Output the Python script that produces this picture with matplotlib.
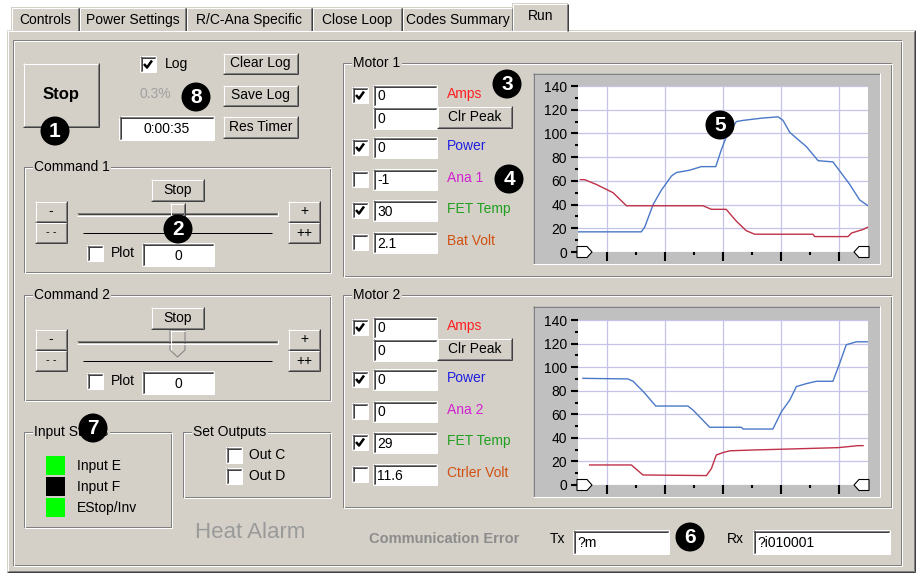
import matplotlib
matplotlib.use('Agg')
import matplotlib.pyplot as plt
from matplotlib.patches import Rectangle, Polygon, Circle
from matplotlib.ticker import MultipleLocator, FixedLocator

W, H = 918, 573
BG = '#d4d0c8'
DARK = '#808080'
DARKER = '#404040'
FONT = ['Liberation Sans', 'DejaVu Sans']
plt.rcParams['font.family'] = FONT

# ---- data ----
tab_names = ['Controls', 'Power Settings', 'R/C-Ana Specific', 'Close Loop', 'Codes Summary', 'Run']

m1_labels = ['Amps', 'Power', 'Ana 1', 'FET Temp', 'Bat Volt']
m1_values = ['0', '0', '-1', '30', '2.1']
m1_checked = [True, True, False, True, False]
m2_labels = ['Amps', 'Power', 'Ana 2', 'FET Temp', 'Ctrler Volt']
m2_values = ['0', '0', '0', '29', '11.6']
m2_checked = [True, True, False, True, False]
chan_colors = ['#ff2020', '#2020e0', '#d020d0', '#20a020', '#d05010']

inputs = ['Input E', 'Input F', 'EStop/Inv']
input_colors = ['#00ff00', '#000000', '#00ff00']
outputs = ['Out C', 'Out D']

# motor 1 chart traces (time %, value)
m1_blue_t = [0, 21.8, 23, 25.9, 28.7, 32.2, 33.9, 38.5, 42.5, 47.5, 49.4, 51.1, 54.6, 56.9,
             63.8, 69, 70.7, 73, 75.3, 78.7, 82.8, 87.9, 93.7, 97.1, 100]
m1_blue_v = [17, 17, 21, 40, 52, 64, 67, 69, 72, 72, 86, 97, 110, 111,
             113, 114, 111, 101, 96, 89, 77, 76, 57, 44, 39]
m1_red_t = [0.8, 2.3, 6.3, 12.1, 16.7, 43.1, 46, 51.1, 54.6, 58, 60.9, 81, 81.6, 93.1, 94.3, 98.3, 100]
m1_red_v = [61, 61, 57, 50, 39, 39, 36, 36, 26, 18, 15, 15, 13, 13, 16, 19, 21]

# motor 2 chart traces
m2_blue_t = [1.7, 17.2, 19, 23, 26.8, 37.9, 39.7, 45.4, 56.3, 56.9, 67.2, 70.1, 73, 75.3,
             78.7, 82.2, 87.9, 90.2, 92.5, 96, 100]
m2_blue_v = [90.5, 90, 88, 78, 67, 67, 63.5, 49, 49, 47.5, 47.5, 62, 72, 83.5,
             86, 88, 88, 103, 119, 121.5, 121.5]
m2_red_t = [4, 18.4, 22.4, 44.3, 46, 47.7, 50, 52.3, 60.3, 72.4, 89.7, 96.6, 98.3]
m2_red_v = [17, 17, 8.5, 8, 14, 25.5, 27.5, 29, 29.7, 30.5, 31.7, 33.4, 33.4]

markers = ['1', '2', '3', '4', '5', '6', '7', '8']


fig = plt.figure(figsize=(W / 100, H / 100), dpi=100)
fig.patch.set_facecolor('white')
ax = fig.add_axes([0, 0, 1, 1])
ax.set_xlim(0, W)
ax.set_ylim(H, 0)
ax.axis('off')


def hl(x0, x1, y, c, lw=1):
    ax.plot([x0, x1], [y, y], color=c, lw=lw * 0.72, solid_capstyle='butt')


def vl(x, y0, y1, c, lw=1):
    ax.plot([x, x], [y0, y1], color=c, lw=lw * 0.72, solid_capstyle='butt')


def txt(x, y, s, size=10, color='black', ha='left', weight='normal'):
    ax.text(x, y, s, fontsize=size, color=color, ha=ha, va='center', weight=weight)


def button(x0, y0, x1, y1, label='', size=10, weight='normal'):
    ax.add_patch(Rectangle((x0, y0), x1 - x0, y1 - y0, fc=BG, ec='none'))
    hl(x0, x1, y0 + 0.5, 'white')
    vl(x0 + 0.5, y0, y1, 'white')
    hl(x0, x1, y1 - 0.5, DARKER)
    vl(x1 - 0.5, y0, y1, DARKER)
    hl(x0 + 1, x1 - 1, y1 - 1.5, DARK)
    vl(x1 - 1.5, y0 + 1, y1 - 1, DARK)
    if label:
        txt((x0 + x1) / 2, (y0 + y1) / 2, label, size=size, ha='center', weight=weight)


def sunken(x0, y0, x1, y1, label='', ha='left', fc='white'):
    ax.add_patch(Rectangle((x0, y0), x1 - x0, y1 - y0, fc=fc, ec='none'))
    hl(x0, x1, y0 + 0.5, DARK)
    vl(x0 + 0.5, y0, y1, DARK)
    hl(x0 + 1, x1 - 1, y0 + 1.5, DARKER)
    vl(x0 + 1.5, y0 + 1, y1 - 1, DARKER)
    hl(x0, x1, y1 - 0.5, 'white')
    vl(x1 - 0.5, y0, y1, 'white')
    if label:
        if ha == 'center':
            txt((x0 + x1) / 2, (y0 + y1) / 2 + 1, label, ha='center')
        else:
            txt(x0 + 4, (y0 + y1) / 2 + 1, label)


def checkbox(x0, y0, checked, s=16):
    sunken(x0, y0, x0 + s, y0 + s)
    if checked:
        ax.plot([x0 + 4, x0 + 7, x0 + 12], [y0 + 8, y0 + 11.5, y0 + 4.5],
                color='black', lw=1.8, solid_capstyle='butt')


def group(x0, y0, x1, y1, label):
    ax.add_patch(Rectangle((x0, y0), x1 - x0 - 1, y1 - y0 - 1, fc='none', ec=DARK, lw=0.72))
    ax.add_patch(Rectangle((x0 + 1, y0 + 1), x1 - x0 - 1, y1 - y0 - 1, fc='none', ec='white', lw=0.72))
    ax.text(x0 + 10, y0, label, fontsize=10, va='center', ha='left',
            bbox=dict(fc=BG, ec='none', pad=1))


# ---- tab strip ----
tab_x = [11, 79, 186, 312, 402, 513, 568]
for i, name in enumerate(tab_names[:-1]):
    x0, x1 = tab_x[i], tab_x[i + 1]
    ax.add_patch(Rectangle((x0, 7), x1 - x0, 24, fc=BG, ec='none'))
    hl(x0 + 1, x1 - 1, 7.5, 'white')
    vl(x0 + 0.5, 8, 31, 'white')
    vl(x1 - 0.5, 8, 31, DARKER)
    vl(x1 - 1.5, 8, 31, DARK)
    txt((x0 + x1) / 2, 20, name, ha='center')

# panel body
ax.add_patch(Rectangle((7, 30), 908, 542, fc=BG, ec='none'))
hl(7, 915, 30.5, 'white')
vl(7.5, 30, 572, 'white')
vl(914.5, 30, 572, DARKER)
vl(913.5, 31, 571, DARK)
hl(7, 915, 571.5, DARKER)
hl(8, 914, 570.5, DARK)

# selected tab
x0, x1 = tab_x[-2], tab_x[-1]
ax.add_patch(Rectangle((x0 - 1, 3), x1 - x0 + 1, 29, fc=BG, ec='none'))
hl(x0, x1 - 1, 3.5, 'white')
vl(x0 - 0.5, 4, 31, 'white')
vl(x1 - 0.5, 4, 31, DARKER)
vl(x1 - 1.5, 4, 31, DARK)
txt((x0 + x1) / 2, 16, tab_names[-1], ha='center')

# inner frame
ax.add_patch(Rectangle((13, 40), 888, 525, fc='none', ec=DARK, lw=0.72))
ax.add_patch(Rectangle((14, 41), 888, 525, fc='none', ec='white', lw=0.72))

# ---- top-left controls ----
button(23, 63, 99, 127, 'Stop', size=12, weight='bold')
checkbox(140, 56, True)
txt(165, 64, 'Log')
button(223, 53, 298, 74, 'Clear Log')
button(223, 85, 298, 106, 'Save Log')
button(223, 116, 298, 138, 'Res Timer')
txt(139, 94, '0.3%', color='#a0a0a0')
sunken(119, 116, 214, 140, '0:00:35', ha='center')


# ---- command groups ----
def command(top, thumb_pointed):
    group(24, top, 331, top + 106, 'Command ' + ('1' if top < 200 else '2'))
    button(151, top + 12, 204, top + 34, 'Stop')
    button(35, top + 34, 67, top + 55, '-')
    button(35, top + 55, 67, top + 76)
    txt(51, top + 65, '- -', size=8, ha='center')
    button(288, top + 34, 320, top + 55, '+')
    button(288, top + 55, 320, top + 76, '++')
    gy = top + 45
    ax.add_patch(Rectangle((77, gy), 201, 4, fc=BG, ec='none'))
    hl(77, 278, gy + 0.5, DARK)
    hl(78, 277, gy + 1.5, DARKER)
    hl(77, 278, gy + 3.5, 'white')
    vl(278, gy, gy + 4, 'white')
    hl(83, 272, top + 65.5, 'black')
    if thumb_pointed:
        pts = [(170, top + 35), (185, top + 35), (185, top + 55), (177.5, top + 62), (170, top + 55)]
        ax.add_patch(Polygon(pts, closed=True, fc=BG, ec=DARK, lw=0.72))
        vl(170.5, top + 35, top + 55, 'white')
        hl(170, 185, top + 35.5, 'white')
    else:
        button(170, top + 36, 185, top + 51)
    checkbox(87, top + 78, False)
    txt(111, top + 86, 'Plot')
    sunken(142, top + 76, 214, top + 99, '0', ha='center')


command(167, False)
command(295, True)

# ---- input status / outputs ----
group(24, 432, 172, 528, 'Input Status')
for i, (name, c) in enumerate(zip(inputs, input_colors)):
    y = 456 + i * 21
    ax.add_patch(Rectangle((46, y), 19, 19, fc=c, ec='none'))
    txt(77, y + 10, name)

group(183, 432, 331, 498, 'Set Outputs')
for i, name in enumerate(outputs):
    y = 447 + i * 21
    checkbox(226, y, False)
    txt(249, y + 8, name)

txt(195, 533, 'Heat Alarm', size=16, color='#9a9a9a')

# ---- comm row ----
txt(369, 539, 'Communication Error', size=10.5, color='#8c8c8c', weight='bold')
txt(550, 539, 'Tx')
sunken(573, 530, 669, 554, '?m')
txt(727, 539, 'Rx')
sunken(753, 530, 890, 554, '?i010001')

# ---- motor groups ----
row_off = [24, 76, 108, 139, 171]


def motor(top, bottom, name, labels, values, checked):
    group(343, top, 892, bottom, name)
    for i, (lab, val, chk, col) in enumerate(zip(labels, values, checked, chan_colors)):
        y = top + row_off[i]
        checkbox(352, y, chk)
        sunken(373, y - 2, 437, y + 19, val)
        txt(447, y + 7, lab, color=col)
        if i == 0:
            sunken(373, y + 20, 437, y + 42, '0')
            button(437, y + 19, 512, y + 41, 'Clr Peak')


motor(63, 277, 'Motor 1', m1_labels, m1_values, m1_checked)
motor(295, 508, 'Motor 2', m2_labels, m2_values, m2_checked)

# chart frames
for (fy0, fy1) in [(73, 264), (306, 497)]:
    ax.add_patch(Rectangle((533, fy0), 347, fy1 - fy0, fc='#c0c0c0', ec='none'))
    hl(533, 880, fy0 + 0.5, DARK)
    vl(533.5, fy0, fy1, DARK)
    hl(533, 880, fy1 - 0.5, 'white')
    vl(879.5, fy0, fy1, 'white')


def chart(zero_y, top_y, blue_t, blue_v, red_t, red_v):
    c = fig.add_axes([578 / W, 1 - zero_y / H, 290 / W, (zero_y - top_y) / H])
    c.set_facecolor('white')
    c.plot(blue_t, blue_v, color='#4a78c8', lw=1.0)
    c.plot(red_t, red_v, color='#c03048', lw=1.0)
    c.set_xlim(0, 100)
    c.set_ylim(0, 140)
    for s in c.spines.values():
        s.set_visible(False)
    c.yaxis.set_major_locator(MultipleLocator(20))
    c.yaxis.set_minor_locator(MultipleLocator(10))
    c.xaxis.set_major_locator(FixedLocator([10, 30, 50, 70, 90]))
    c.xaxis.set_minor_locator(FixedLocator([20, 40, 60, 80]))
    c.grid(True, which='major', color='#c4c4e8', lw=0.9)
    c.set_axisbelow(True)
    c.tick_params(axis='y', which='major', length=5, width=1.5, pad=3, labelsize=10)
    c.tick_params(axis='y', which='minor', length=2.5, width=1.5)
    c.tick_params(axis='x', which='major', length=6.5, width=1.5, labelbottom=False)
    c.tick_params(axis='x', which='minor', length=2.5, width=1.5)
    return c


chart(252, 86, m1_blue_t, m1_blue_v, m1_red_t, m1_red_v)
chart(485, 320, m2_blue_t, m2_blue_v, m2_red_t, m2_red_v)

# ---- overlay: cursors and callout numbers ----
ov = fig.add_axes([0, 0, 1, 1])
ov.set_xlim(0, W)
ov.set_ylim(H, 0)
ov.axis('off')
ov.patch.set_alpha(0)

for zy in [252, 485]:
    ov.add_patch(Polygon([(577, zy - 5.5), (587, zy - 5.5), (592, zy), (587, zy + 5.5), (577, zy + 5.5)],
                         closed=True, fc='white', ec='black', lw=0.8))
    ov.add_patch(Polygon([(869, zy - 5.5), (859, zy - 5.5), (854, zy), (859, zy + 5.5), (869, zy + 5.5)],
                         closed=True, fc='white', ec='black', lw=0.8))

marker_xy = [(55, 131), (178, 229), (507, 84), (509, 179), (720, 125), (690, 537), (93, 428), (196, 97)]
for m, (x, y) in zip(markers, marker_xy):
    ov.add_patch(Circle((x, y), 14.5, fc='black', ec='none'))
    ov.text(x, y + 0.5, m, color='white', fontsize=15, weight='bold', ha='center', va='center')

fig.savefig('out.png', dpi=100)
